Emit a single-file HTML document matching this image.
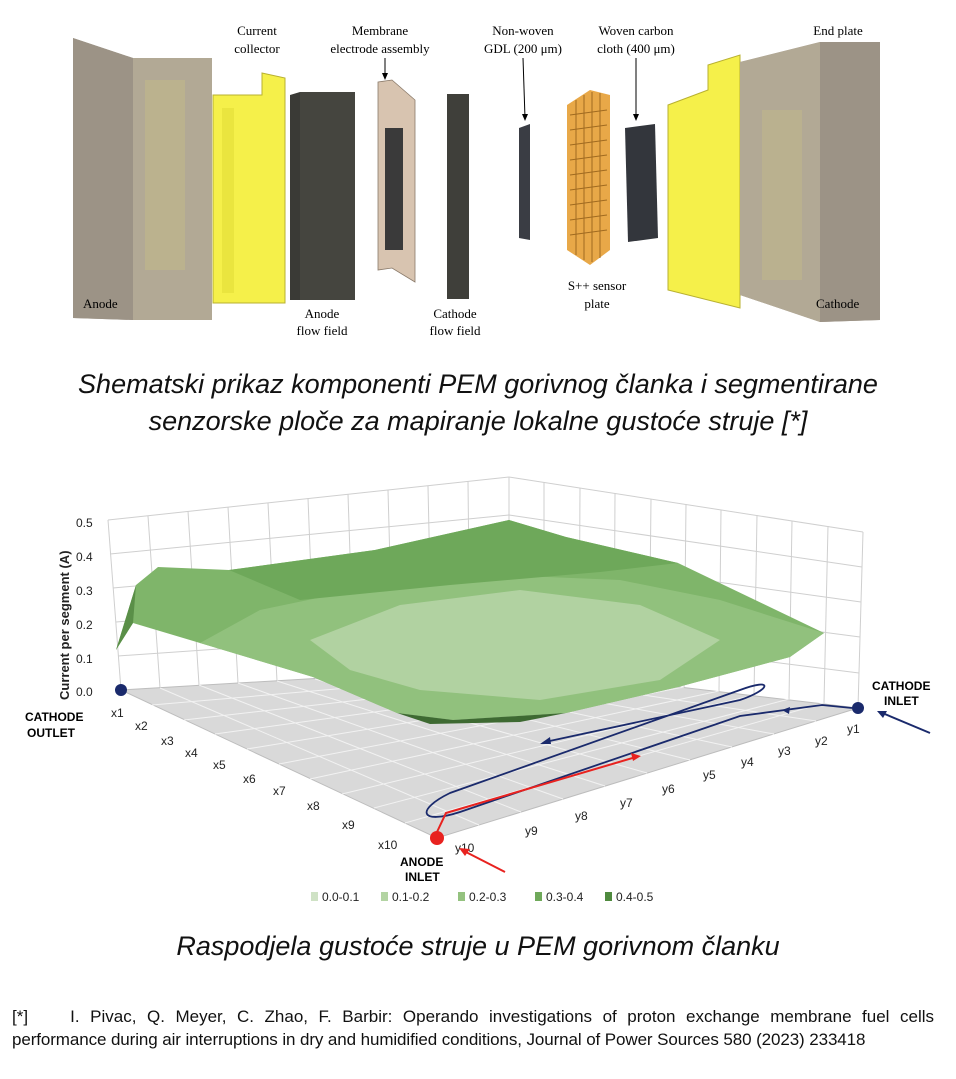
<!DOCTYPE html>
<html><head><meta charset="utf-8"><style>
html,body{margin:0;padding:0;background:#fff;}
body{width:956px;height:1079px;position:relative;overflow:hidden;font-family:"Liberation Sans",sans-serif;}
.cap{position:absolute;left:0;width:956px;text-align:center;font-style:italic;font-size:27px;color:#111;}
.foot{position:absolute;left:12px;width:922px;font-size:17px;color:#111;text-align:justify;text-align-last:justify;line-height:23px;white-space:nowrap;}
</style></head><body>
<svg width="956" height="1079" style="position:absolute;left:0;top:0" font-family="Liberation Serif">
<polygon points="73,38 133,58 212,58 212,318 133,320 73,318" fill="#a99f92"/>
<polygon points="73,38 133,58 133,320 73,318" fill="#9c9386"/>
<rect x="133" y="58" width="79" height="262" fill="#b2a995"/>
<rect x="145" y="80" width="40" height="190" fill="#bfb78c" opacity="0.7"/>
<text x="83" y="308" font-size="13">Anode</text>
<polygon points="213,95 262,95 262,73 285,78 285,303 213,303" fill="#f5f04a" stroke="#b8b030"/>
<rect x="222" y="108" width="12" height="185" fill="#e6df3a" opacity="0.7"/>
<text x="257" y="35" font-size="13" text-anchor="middle">Current</text>
<text x="257" y="53" font-size="13" text-anchor="middle">collector</text>
<polygon points="290,95 300,92 355,92 355,300 290,300" fill="#3a3a36"/>
<rect x="300" y="92" width="55" height="208" fill="#45453f"/>
<text x="322" y="318" font-size="13" text-anchor="middle">Anode</text>
<text x="322" y="335" font-size="13" text-anchor="middle">flow field</text>
<polygon points="378,82 392,80 415,100 415,282 392,268 378,270" fill="#d8c4b0" stroke="#8a7a6a" stroke-width="0.8"/>
<rect x="385" y="128" width="18" height="122" fill="#3a3a3a"/>
<text x="380" y="35" font-size="13" text-anchor="middle">Membrane</text>
<text x="380" y="53" font-size="13" text-anchor="middle">electrode assembly</text>
<line x1="385" y1="58" x2="385" y2="76" stroke="#000"/><polygon points="382,73 388,73 385,80" fill="#000"/>
<rect x="447" y="94" width="22" height="205" fill="#3f3f3a"/>
<text x="455" y="318" font-size="13" text-anchor="middle">Cathode</text>
<text x="455" y="335" font-size="13" text-anchor="middle">flow field</text>
<polygon points="519,128 530,124 530,240 519,238" fill="#3a3d44"/>
<text x="523" y="35" font-size="13" text-anchor="middle">Non-woven</text>
<text x="523" y="53" font-size="13" text-anchor="middle">GDL (200 μm)</text>
<line x1="523" y1="58" x2="525" y2="118" stroke="#000"/><polygon points="522,114 528,114 525,121" fill="#000"/>
<polygon points="567,105 590,90 610,95 610,250 590,265 567,250" fill="#e8a848"/>
<g stroke="#a06a20" stroke-width="1">
<line x1="570" y1="115" x2="607" y2="110"/><line x1="570" y1="130" x2="607" y2="125"/><line x1="570" y1="145" x2="607" y2="140"/><line x1="570" y1="160" x2="607" y2="155"/><line x1="570" y1="175" x2="607" y2="170"/><line x1="570" y1="190" x2="607" y2="185"/><line x1="570" y1="205" x2="607" y2="200"/><line x1="570" y1="220" x2="607" y2="215"/><line x1="570" y1="235" x2="607" y2="230"/>
<line x1="576" y1="100" x2="576" y2="255"/><line x1="584" y1="95" x2="584" y2="260"/><line x1="592" y1="92" x2="592" y2="262"/><line x1="600" y1="93" x2="600" y2="258"/>
</g>
<text x="597" y="290" font-size="13" text-anchor="middle">S++ sensor</text>
<text x="597" y="308" font-size="13" text-anchor="middle">plate</text>
<polygon points="625,128 655,124 658,238 628,242" fill="#33363c"/>
<text x="636" y="35" font-size="13" text-anchor="middle">Woven carbon</text>
<text x="636" y="53" font-size="13" text-anchor="middle">cloth (400 μm)</text>
<line x1="636" y1="58" x2="636" y2="118" stroke="#000"/><polygon points="633,114 639,114 636,121" fill="#000"/>
<polygon points="668,105 708,90 708,65 740,55 740,308 668,290" fill="#f5f04a" stroke="#b8b030"/>
<polygon points="740,62 820,42 880,42 880,320 820,322 740,295" fill="#a99f92"/>
<polygon points="820,42 880,42 880,320 820,322" fill="#9c9386"/>
<polygon points="740,62 820,42 820,322 740,295" fill="#b2a995"/>
<rect x="762" y="110" width="40" height="170" fill="#bfb78c" opacity="0.6"/>
<text x="838" y="35" font-size="13" text-anchor="middle">End plate</text>
<text x="816" y="308" font-size="13">Cathode</text>

<g font-family="Liberation Sans">
<g stroke="#cfcfcf" stroke-width="1" fill="none">
<line x1="108" y1="520" x2="121" y2="690"/>
<line x1="148" y1="516" x2="160" y2="688"/><line x1="188" y1="511" x2="199" y2="685"/><line x1="228" y1="507" x2="238" y2="683"/><line x1="268" y1="503" x2="277" y2="681"/><line x1="308" y1="498" x2="315" y2="679"/><line x1="348" y1="494" x2="354" y2="676"/><line x1="388" y1="490" x2="393" y2="674"/><line x1="428" y1="486" x2="432" y2="672"/><line x1="468" y1="481" x2="470" y2="669"/>
<line x1="509" y1="477" x2="509" y2="667"/>
<line x1="110" y1="554" x2="509" y2="515"/><line x1="113" y1="588" x2="509" y2="553"/><line x1="116" y1="622" x2="509" y2="591"/><line x1="118" y1="656" x2="509" y2="629"/>
<line x1="108" y1="520" x2="509" y2="477"/>
<line x1="509" y1="477" x2="863" y2="532"/>
<line x1="509" y1="515" x2="862" y2="567"/><line x1="509" y1="553" x2="861" y2="602"/><line x1="509" y1="591" x2="860" y2="637"/><line x1="509" y1="629" x2="859" y2="673"/>
<line x1="544" y1="482" x2="544" y2="671"/><line x1="580" y1="488" x2="579" y2="675"/><line x1="615" y1="493" x2="614" y2="679"/><line x1="651" y1="499" x2="649" y2="683"/><line x1="686" y1="504" x2="684" y2="687"/><line x1="721" y1="510" x2="719" y2="691"/><line x1="757" y1="515" x2="754" y2="695"/><line x1="792" y1="521" x2="789" y2="699"/><line x1="828" y1="526" x2="824" y2="703"/><line x1="863" y1="532" x2="858" y2="708"/>
</g>
<polygon points="121,690 509,667 858,708 437,838" fill="#d9d9d9" stroke="#bdbdbd"/>
<g stroke="#f2f2f2" stroke-width="1">
<line x1="152" y1="705" x2="544" y2="671"/><line x1="184" y1="720" x2="579" y2="675"/><line x1="215" y1="734" x2="614" y2="679"/><line x1="247" y1="749" x2="649" y2="683"/><line x1="279" y1="764" x2="684" y2="687"/><line x1="310" y1="779" x2="719" y2="691"/><line x1="342" y1="794" x2="754" y2="695"/><line x1="374" y1="808" x2="789" y2="699"/><line x1="405" y1="823" x2="824" y2="703"/>
<line x1="160" y1="688" x2="479" y2="825"/><line x1="199" y1="685" x2="521" y2="812"/><line x1="238" y1="683" x2="563" y2="799"/><line x1="277" y1="681" x2="605" y2="786"/><line x1="315" y1="679" x2="647" y2="773"/><line x1="354" y1="676" x2="690" y2="760"/><line x1="393" y1="674" x2="732" y2="747"/><line x1="432" y1="672" x2="774" y2="734"/><line x1="470" y1="669" x2="816" y2="721"/>
</g>
<polygon points="116,650 136,585 158,567 229,570 375,550 509,520 566,537 678,563 824,633 790,657 678,687 566,713 453,720 397,713 313,677 200,643 133,623" fill="#7fb56a"/>
<polygon points="116,650 136,585 133,623" fill="#5a8f48"/>
<polygon points="200,643 260,610 380,585 500,575 620,580 720,600 824,633 790,657 678,687 566,713 453,720 397,713 313,677" fill="#94c27f" opacity="0.9"/>
<polygon points="310,640 400,605 520,590 640,605 720,640 660,680 540,700 420,690 350,670" fill="#b5d4a5" opacity="0.9"/>
<polygon points="229,570 375,550 509,520 566,537 678,563 600,572 450,585 300,600" fill="#6ea85a"/>
<polygon points="397,713 453,720 566,713 520,722 430,724" fill="#3e6a32"/>
<g font-size="12" fill="#222">
<text x="76" y="527">0.5</text><text x="76" y="561">0.4</text><text x="76" y="595">0.3</text><text x="76" y="629">0.2</text><text x="76" y="663">0.1</text><text x="76" y="696">0.0</text>
</g>
<text transform="translate(69,700) rotate(-90)" font-size="13" font-weight="bold" fill="#222">Current per segment (A)</text>
<circle cx="121" cy="690" r="6" fill="#1a2a6c"/>
<text x="25" y="721" font-size="12" font-weight="bold">CATHODE</text>
<text x="27" y="737" font-size="12" font-weight="bold">OUTLET</text>
<g font-size="12" fill="#222">
<text x="111" y="717">x1</text><text x="135" y="730">x2</text><text x="161" y="745">x3</text><text x="185" y="757">x4</text><text x="213" y="769">x5</text><text x="243" y="783">x6</text><text x="273" y="795">x7</text><text x="307" y="810">x8</text><text x="342" y="829">x9</text><text x="378" y="849">x10</text>
<text x="455" y="852">y10</text><text x="525" y="835">y9</text><text x="575" y="820">y8</text><text x="620" y="807">y7</text><text x="662" y="793">y6</text><text x="703" y="779">y5</text><text x="741" y="766">y4</text><text x="778" y="755">y3</text><text x="815" y="745">y2</text><text x="847" y="733">y1</text>
</g>
<circle cx="858" cy="708" r="6" fill="#1a2a6c"/>
<text x="872" y="690" font-size="12" font-weight="bold">CATHODE</text>
<text x="884" y="705" font-size="12" font-weight="bold">INLET</text>
<line x1="930" y1="733" x2="880" y2="712" stroke="#1a2a6c" stroke-width="2"/><polygon points="877,711 887,711 883,718" fill="#1a2a6c"/>
<circle cx="437" cy="838" r="7" fill="#e8221f"/>
<text x="400" y="866" font-size="12" font-weight="bold">ANODE</text>
<text x="405" y="881" font-size="12" font-weight="bold">INLET</text>
<line x1="505" y1="872" x2="462" y2="850" stroke="#e8221f" stroke-width="2"/><polygon points="459,848 470,849 465,856" fill="#e8221f"/>
<g fill="none" stroke="#1a2a6c" stroke-width="1.8">
<path d="M852,708 L822,705 L740,716 L460,812 C420,825 415,810 450,793 L740,690 C775,677 770,690 740,700 L545,742"/>
</g>
<polygon points="540,744 550,737 551,744" fill="#1a2a6c"/>
<polygon points="782,710 790,707 789,714" fill="#1a2a6c"/>
<path d="M437,832 L446,813 L636,757" fill="none" stroke="#e8221f" stroke-width="2"/>
<polygon points="641,756 631,753 633,761" fill="#e8221f"/>
<g font-size="12" fill="#222">
<rect x="311" y="892" width="7" height="9" fill="#cfe2c5"/><text x="322" y="901">0.0-0.1</text>
<rect x="381" y="892" width="7" height="9" fill="#b3d4a3"/><text x="392" y="901">0.1-0.2</text>
<rect x="458" y="892" width="7" height="9" fill="#94c27f"/><text x="469" y="901">0.2-0.3</text>
<rect x="535" y="892" width="7" height="9" fill="#6fa95a"/><text x="546" y="901">0.3-0.4</text>
<rect x="605" y="892" width="7" height="9" fill="#4f8a3e"/><text x="616" y="901">0.4-0.5</text>
</g>
</g>
</svg>
<div class="cap" style="top:369px">Shematski prikaz komponenti PEM gorivnog članka i segmentirane</div>
<div class="cap" style="top:406px">senzorske ploče za mapiranje lokalne gustoće struje [*]</div>
<div class="cap" style="top:931px">Raspodjela gustoće struje u PEM gorivnom članku</div>
<div class="foot" style="top:1005px">[*]&nbsp;&nbsp;&nbsp; I. Pivac, Q. Meyer, C. Zhao, F. Barbir: Operando investigations of proton exchange membrane fuel cells</div>
<div class="foot" style="top:1028px;text-align-last:left;letter-spacing:-0.1px">performance during air interruptions in dry and humidified conditions, Journal of Power Sources 580 (2023) 233418</div>
</body></html>
